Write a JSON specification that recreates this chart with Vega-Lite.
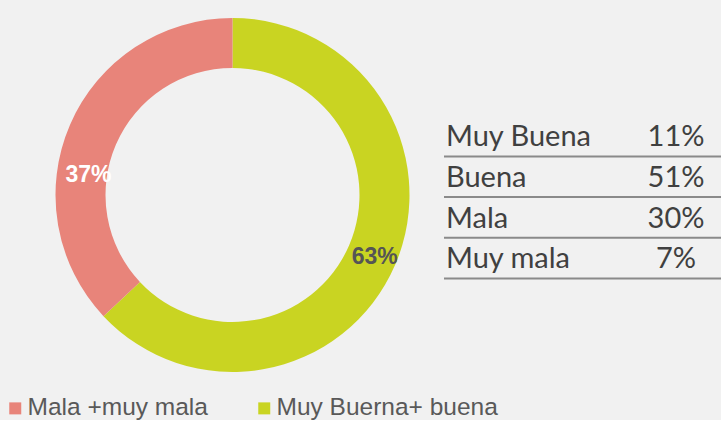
{
  "$schema": "https://vega.github.io/schema/vega-lite/v6.json",
  "background": "#f1f1f1",
  "padding": {"left": 3, "top": 0, "right": 0, "bottom": 0},
  "spacing": 0,
  "config": {"view": {"stroke": null}},
  "hconcat": [
    {
      "width": 421,
      "height": 390,
      "data": {"values": [
        {"grupo": "Muy Buerna+ buena", "valor": 0.63},
        {"grupo": "Mala +muy mala", "valor": 0.37}
      ]},
      "encoding": {
        "theta": {"field": "valor", "type": "quantitative", "stack": true},
        "order": {"field": "valor", "type": "quantitative", "sort": "descending"}
      },
      "layer": [
        {
          "mark": {"type": "arc", "outerRadius": 177, "innerRadius": 127},
          "encoding": {
            "color": {
              "field": "grupo", "type": "nominal",
              "scale": {"domain": ["Mala +muy mala", "Muy Buerna+ buena"], "range": ["#e8847a", "#c9d422"]},
              "legend": {
                "title": null, "orient": "none", "legendX": -19, "legendY": 396, "direction": "horizontal",
                "symbolType": "square", "symbolSize": 144, "symbolStrokeWidth": 0,
                "labelFont": "Liberation Sans", "labelFontSize": 24.5, "labelColor": "#595959",
                "labelOffset": 0, "columnPadding": 44, "labelLimit": 0, "padding": 0
              }
            }
          }
        },
        {
          "mark": {"type": "text", "radius": 155, "font": "Liberation Sans", "fontSize": 23, "fontWeight": "bold", "color": "#555555"},
          "encoding": {
            "detail": {"field": "grupo", "type": "nominal"},
            "text": {"condition": {"test": "datum.grupo === 'Muy Buerna+ buena'", "field": "valor", "type": "quantitative", "format": ".0%"}, "value": ""}
          }
        },
        {
          "mark": {"type": "text", "radius": 145, "dx": -11, "dy": 37.5, "font": "Liberation Sans", "fontSize": 23, "fontWeight": "bold", "color": "#ffffff"},
          "encoding": {
            "detail": {"field": "grupo", "type": "nominal"},
            "text": {"condition": {"test": "datum.grupo === 'Mala +muy mala'", "field": "valor", "type": "quantitative", "format": ".0%"}, "value": ""}
          }
        }
      ]
    },
    {
      "width": 278,
      "height": 325.6,
      "data": {"values": [
        {"fila": "Muy Buena", "pct": "11%"},
        {"fila": "Buena", "pct": "51%"},
        {"fila": "Mala", "pct": "30%"},
        {"fila": "Muy mala", "pct": "7%"}
      ]},
      "layer": [
        {
          "mark": {"type": "rule", "color": "#8a8a8a", "strokeWidth": 2},
          "encoding": {
            "y": {"field": "fila", "type": "nominal", "bandPosition": 1, "axis": null,
              "scale": {"type": "band", "domain": [" ", "  ", "Muy Buena", "Buena", "Mala", "Muy mala"], "paddingInner": 0, "paddingOuter": 1, "align": 0.4215}}
          }
        },
        {
          "mark": {"type": "text", "align": "left", "baseline": "alphabetic", "font": "Lato", "fontSize": 29, "color": "#404040"},
          "encoding": {
            "y": {"field": "fila", "type": "nominal", "bandPosition": 0.754, "axis": null},
            "x": {"datum": "Categoría", "type": "ordinal", "axis": null,
              "scale": {"type": "point", "domain": ["Categoría", "Porcentaje"], "padding": 0.1043, "align": 0.0417}},
            "text": {"field": "fila", "type": "nominal"}
          }
        },
        {
          "mark": {"type": "text", "align": "center", "baseline": "alphabetic", "font": "Lato", "fontSize": 29, "color": "#404040"},
          "encoding": {
            "y": {"field": "fila", "type": "nominal", "bandPosition": 0.754, "axis": null},
            "x": {"datum": "Porcentaje", "type": "ordinal", "axis": null},
            "text": {"field": "pct", "type": "nominal"}
          }
        }
      ]
    }
  ]
}
